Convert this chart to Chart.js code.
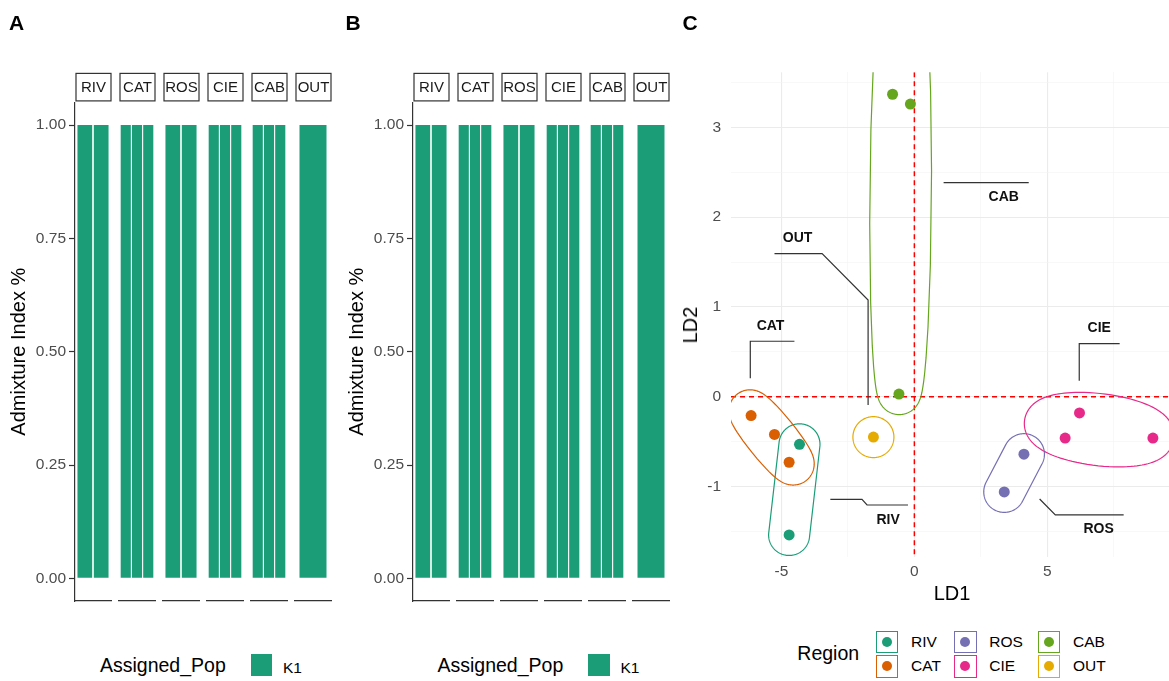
<!DOCTYPE html>
<html>
<head>
<meta charset="utf-8">
<script src="https://cdn.jsdelivr.net/npm/chart.js@4"></script>
<style>
html, body { margin: 0; padding: 0; background: #fff; overflow: hidden; width: 1169px; height: 681px; }
body { position: relative; font-family: "Liberation Sans", Arial, Helvetica, sans-serif; }
canvas { position: absolute; top: 0; }
.t { position: absolute; white-space: nowrap; line-height: 1; }
.tag { font-weight: bold; font-size: 21px; color: #000; }
.ttl { font-size: 19.5px; color: #000; }
.lab { font-size: 15.5px; color: #000; }
.key { position: absolute; box-sizing: border-box; }
.rot { position: absolute; white-space: nowrap; line-height: 1; font-size: 20px; color: #000; transform: translate(-50%, -50%) rotate(-90deg); }
</style>
</head>
<body>
<canvas id="chartA" width="340" height="621" style="left:0"></canvas>
<canvas id="chartB" width="340" height="621" style="left:338px"></canvas>
<canvas id="chartC" width="510" height="620" style="left:669px"></canvas>
<div class="t tag" style="left:9px;top:11.5px">A</div>
<div class="t tag" style="left:345.5px;top:11.5px">B</div>
<div class="t tag" style="left:682.5px;top:11.5px">C</div>
<div class="rot" style="left:690px;top:325px">LD2</div>
<div id="legends"></div>
<script>
const regions = ['RIV', 'CAT', 'ROS', 'CIE', 'CAB', 'OUT'];
const colors = ['#1B9E77', '#D95F02', '#7570B3', '#E7298A', '#66A61E', '#E6AB02'];
const clusterName = 'K1';
const clusterColor = '#1B9E77';

// K1 admixture share of each individual, one list per region facet
const admixA = [[1, 1], [1, 1, 1], [1, 1], [1, 1, 1], [1, 1, 1], [1]];
const admixB = [[1, 1], [1, 1, 1], [1, 1], [1, 1, 1], [1, 1, 1], [1]];
const admixTicks = [0, 0.25, 0.5, 0.75, 1];

// discriminant scores, one list per region
const ld1 = [[-4.32, -4.71], [-6.14, -5.26, -4.71], [4.12, 3.38], [6.21, 5.67, 8.97], [-0.82, -0.15, -0.58], [-1.54]];
const ld2 = [[-0.53, -1.54], [-0.21, -0.42, -0.73], [-0.64, -1.06], [-0.18, -0.46, -0.46], [3.37, 3.26, 0.03], [-0.45]];
const ld1Ticks = [-5, -2.5, 0, 2.5, 5, 7.5];
const ld2Ticks = [-1.5, -1, -0.5, 0, 0.5, 1, 1.5, 2, 2.5, 3, 3.5];

// label call-outs for the ellipses (data units)
const markLabels = [
  { text: 'RIV', path: [[-3.16, -1.143], [-1.97, -1.143], [-1.78, -1.206], [-0.24, -1.206]], at: [-0.99, -1.373] },
  { text: 'CAT', path: [[-6.17, 0.206], [-6.17, 0.618], [-4.51, 0.618]], at: [-5.41, 0.79] },
  { text: 'ROS', path: [[4.71, -1.139], [5.30, -1.317], [7.87, -1.317]], at: [6.93, -1.477] },
  { text: 'CIE', path: [[6.20, 0.179], [6.20, 0.591], [7.72, 0.591]], at: [6.95, 0.763] },
  { text: 'CAB', path: [[1.10, 2.385], [4.30, 2.385]], at: [3.36, 2.222] },
  { text: 'OUT', path: [[-1.74, -0.092], [-1.74, 1.078], [-3.47, 1.594], [-5.26, 1.594]], at: [-4.39, 1.772] }
];

const FONT = '"Liberation Sans", Arial, Helvetica, sans-serif';
Chart.defaults.font.family = FONT;
Chart.defaults.animation = false;

const stripPlugin = {
  id: 'strips',
  afterDraw(chart) {
    const { ctx, chartArea } = chart;
    ctx.save();
    regions.forEach((name, i) => {
      const s = chart.scales['fx' + i];
      const top = chartArea.top - 29, h = 27.5;
      ctx.fillStyle = '#fff';
      ctx.fillRect(s.left + 1, top, s.right - s.left - 1, h);
      ctx.strokeStyle = '#333';
      ctx.lineWidth = 1.2;
      ctx.strokeRect(s.left + 1, top, s.right - s.left - 1, h);
      ctx.fillStyle = '#1A1A1A';
      ctx.font = '15px ' + FONT;
      ctx.textAlign = 'center';
      ctx.textBaseline = 'middle';
      ctx.fillText(name, (s.left + s.right) / 2 + 0.5, top + h / 2 + 1);
    });
    ctx.restore();
  }
};

function facetChart(id, admix) {
  const scales = {
    y: {
      type: 'linear', position: 'left', min: -0.05, max: 1.05,
      afterBuildTicks: s => { s.ticks = admixTicks.map(v => ({ value: v })); },
      afterFit: s => { s.width = 75; },
      ticks: { callback: v => v.toFixed(2), color: '#4D4D4D', font: { size: 15.5 }, padding: 3 },
      grid: { display: true, drawOnChartArea: false, drawTicks: true, tickLength: 6, tickColor: '#333', tickWidth: 1.2 },
      border: { display: true, color: '#333', width: 1.2 },
      title: { display: true, text: 'Admixture Index %', color: '#000', font: { size: 20 }, padding: { top: 7, bottom: 0 } }
    }
  };
  const datasets = [];
  admix.forEach((vals, i) => {
    if (i > 0) {
      scales['gap' + i] = { axis: 'x', type: 'linear', position: 'bottom', stack: 'facets', stackWeight: 8, display: false };
    }
    scales['fx' + i] = {
      axis: 'x', type: 'linear', position: 'bottom', stack: 'facets', stackWeight: 36,
      min: 0.4, max: vals.length + 0.6, offset: false,
      afterBuildTicks: s => { s.ticks = vals.map((v, j) => ({ value: j + 1 })); },
      afterFit: s => { s.height = 0; },
      ticks: { display: false },
      grid: { display: false, drawTicks: false },
      border: { display: true, color: '#333', width: 1.2 }
    };
    datasets.push({
      label: regions[i],
      xAxisID: 'fx' + i,
      yAxisID: 'y',
      data: vals.map((v, j) => ({ x: j + 1, y: v })),
      backgroundColor: clusterColor,
      borderWidth: 0,
      grouped: false,
      barPercentage: vals.length === 1 ? 0.75 : 0.9,
      categoryPercentage: 1
    });
  });
  return new Chart(document.getElementById(id), {
    type: 'bar',
    data: { datasets },
    options: {
      responsive: false,
      devicePixelRatio: 1,
      layout: { padding: { top: 102.4, right: 9, bottom: 20, left: 0 } },
      scales,
      plugins: { legend: { display: false }, tooltip: { enabled: false } }
    },
    plugins: [stripPlugin]
  });
}

function padRange(v) {
  const lo = Math.min(...v), hi = Math.max(...v), e = (hi - lo) * 0.05;
  return [lo - e, hi + e];
}

const markPlugin = {
  id: 'marks',
  beforeDatasetsDraw(chart) {
    const { ctx, chartArea: a, scales: { x, y } } = chart;
    ctx.save();
    ctx.beginPath();
    ctx.rect(a.left, a.top, a.width, a.height);
    ctx.clip();
    // zero reference lines
    ctx.strokeStyle = '#FF0000';
    ctx.lineWidth = 1.5;
    ctx.setLineDash([5, 4]);
    ctx.beginPath();
    const x0 = x.getPixelForValue(0), y0 = y.getPixelForValue(0);
    ctx.moveTo(x0, a.top); ctx.lineTo(x0, a.bottom);
    ctx.moveTo(a.left, y0); ctx.lineTo(a.right, y0);
    ctx.stroke();
    ctx.setLineDash([]);
    // enclosing ellipses, expanded outwards
    const expand = 20.5;
    chart.data.datasets.forEach((ds, i) => {
      const pts = ds.data.map(p => [x.getPixelForValue(p.x), y.getPixelForValue(p.y)]);
      const n = pts.length;
      const g = [pts.reduce((s, p) => s + p[0], 0) / n, pts.reduce((s, p) => s + p[1], 0) / n];
      let U = [0, 0], V = [0, 0];
      if (n >= 2) U = [pts[n - 1][0] - g[0], pts[n - 1][1] - g[1]];
      if (n >= 3) V = [(pts[1][0] - pts[0][0]) / Math.sqrt(3), (pts[1][1] - pts[0][1]) / Math.sqrt(3)];
      ctx.beginPath();
      for (let k = 0; k <= 240; k++) {
        const th = k / 240 * 2 * Math.PI, dx = Math.cos(th), dy = Math.sin(th);
        const t = Math.atan2(dx * V[0] + dy * V[1], dx * U[0] + dy * U[1]);
        const px = g[0] + Math.cos(t) * U[0] + Math.sin(t) * V[0] + expand * dx;
        const py = g[1] + Math.cos(t) * U[1] + Math.sin(t) * V[1] + expand * dy;
        if (k === 0) ctx.moveTo(px, py); else ctx.lineTo(px, py);
      }
      ctx.closePath();
      ctx.strokeStyle = colors[i];
      ctx.lineWidth = 1.2;
      ctx.stroke();
    });
    ctx.restore();
  },
  afterDatasetsDraw(chart) {
    const { ctx, scales: { x, y } } = chart;
    ctx.save();
    ctx.strokeStyle = '#333';
    ctx.lineWidth = 1.2;
    ctx.fillStyle = '#111';
    ctx.font = 'bold 14px ' + FONT;
    ctx.textAlign = 'center';
    ctx.textBaseline = 'middle';
    markLabels.forEach(m => {
      ctx.beginPath();
      m.path.forEach((p, k) => {
        const px = x.getPixelForValue(p[0]), py = y.getPixelForValue(p[1]);
        if (k === 0) ctx.moveTo(px, py); else ctx.lineTo(px, py);
      });
      ctx.stroke();
      ctx.fillText(m.text, x.getPixelForValue(m.at[0]), y.getPixelForValue(m.at[1]));
    });
    ctx.restore();
  }
};

function scatterChart(id) {
  const [xMin, xMax] = padRange(ld1.flat());
  const [yMin, yMax] = padRange(ld2.flat());
  const gridOpts = major => ({
    display: true, drawTicks: false,
    color: c => (c.tick && major(c.tick.value)) ? '#EBEBEB' : '#F3F3F3',
    lineWidth: c => (c.tick && major(c.tick.value)) ? 1.1 : 0.6
  });
  const xMajor = v => v % 5 === 0;
  const yMajor = v => Number.isInteger(v);
  return new Chart(document.getElementById(id), {
    type: 'scatter',
    data: {
      datasets: regions.map((name, i) => ({
        label: name,
        data: ld1[i].map((v, j) => ({ x: v, y: ld2[i][j] })),
        backgroundColor: colors[i],
        borderWidth: 0,
        pointRadius: 5.5,
        pointHoverRadius: 5.5
      }))
    },
    options: {
      responsive: false,
      devicePixelRatio: 1,
      layout: { padding: { top: 72.2, right: 6, bottom: 0, left: 0 } },
      scales: {
        x: {
          type: 'linear', min: xMin, max: xMax,
          afterBuildTicks: s => { s.ticks = ld1Ticks.map(v => ({ value: v })); },
          afterFit: s => { s.height = 63; },
          ticks: { callback: v => xMajor(v) ? String(v) : '', color: '#4D4D4D', font: { size: 15.5 }, padding: 5, maxRotation: 0, autoSkip: false },
          grid: gridOpts(xMajor),
          border: { display: false },
          title: { display: true, text: 'LD1', color: '#000', font: { size: 20 }, padding: { top: 0, bottom: 14 } }
        },
        y: {
          type: 'linear', min: yMin, max: yMax,
          afterBuildTicks: s => { s.ticks = ld2Ticks.map(v => ({ value: v })); },
          afterFit: s => { s.width = 62; },
          ticks: { callback: v => yMajor(v) ? String(v) : '', color: '#4D4D4D', font: { size: 15.5 }, padding: 10, autoSkip: false },
          grid: gridOpts(yMajor),
          border: { display: false }
        }
      },
      plugins: { legend: { display: false }, tooltip: { enabled: false } }
    },
    plugins: [markPlugin]
  });
}

facetChart('chartA', admixA);
facetChart('chartB', admixB);
scatterChart('chartC');

// legends
const leg = document.getElementById('legends');
function addDiv(cls, style, text) {
  const d = document.createElement('div');
  d.className = cls;
  d.style.cssText = style;
  if (text) d.textContent = text;
  leg.appendChild(d);
  return d;
}
[0, 337.5].forEach(dx => {
  addDiv('t ttl', `left:${100 + dx}px;top:656.2px`, 'Assigned_Pop');
  addDiv('key', `left:${250.7 + dx}px;top:654px;width:21.7px;height:21.7px;background:${clusterColor}`);
  addDiv('t lab', `left:${283 + dx}px;top:660.2px`, clusterName);
});
addDiv('t ttl', 'left:797.3px;top:644.2px', 'Region');
const colX = [875.7, 954, 1037.7];
regions.forEach((name, i) => {
  const col = Math.floor(i / 2), row = i % 2;
  const bx = colX[col], by = 630.7 + row * 24.4;
  addDiv('key', `left:${bx}px;top:${by}px;width:22.6px;height:22.6px;border:1.3px solid ${colors[i]}`);
  addDiv('key', `left:${bx + 6.3}px;top:${by + 6.3}px;width:10px;height:10px;border-radius:50%;background:${colors[i]}`);
  addDiv('t lab', `left:${bx + 35.3}px;top:${by + 3}px`, name);
});
</script>
</body>
</html>
